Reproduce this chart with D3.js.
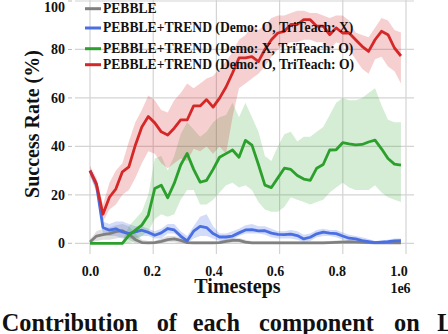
<!DOCTYPE html>
<html>
<head>
<meta charset="utf-8">
<script src="https://cdn.jsdelivr.net/npm/d3@7"></script>
<style>
  body { margin: 0; background: #fff; }
</style>
</head>
<body>
<svg id="chart" width="448" height="334"></svg>
<script>
// evaluation timesteps (x 1e6)
var timesteps = [0, 0.0205, 0.041, 0.0615, 0.082, 0.1025, 0.123, 0.1435, 0.164, 0.1845,
  0.205, 0.2255, 0.246, 0.2665, 0.287, 0.3075, 0.328, 0.3485, 0.369, 0.3895,
  0.41, 0.4305, 0.451, 0.4715, 0.492, 0.5125, 0.533, 0.5535, 0.574, 0.5945,
  0.615, 0.6355, 0.656, 0.6765, 0.697, 0.7175, 0.738, 0.7585, 0.779, 0.7995,
  0.82, 0.8405, 0.861, 0.8815, 0.902, 0.9225, 0.943, 0.9635, 0.984];

var pebble = [0.5, 3, 3.6, 4, 4.8, 5.2, 3.8, 1.5, 0.3, 0.2,
  0.3, 0.8, 1.5, 1.8, 1.2, 0.3, 0.2, 0.2, 0.2, 0.2,
  0.3, 0.8, 1.2, 1.2, 0.5, 0.2, 0.2, 0.2, 0.2, 0.2,
  0.2, 0.2, 0.2, 0.2, 0.2, 0.2, 0.2, 0.3, 0.4, 0.5,
  0.6, 0.5, 0.4, 0.3, 0.2, 0.2, 0.2, 0.2, 0.2];
var pebbleLo = [0, 1, 1.5, 1.5, 2, 2.5, 1.5, 0, 0, 0,
  0, 0, 0.5, 0.5, 0, 0, 0, 0, 0, 0,
  0, 0, 0.3, 0.3, 0, 0, 0, 0, 0, 0,
  0, 0, 0, 0, 0, 0, 0, 0, 0, 0,
  0, 0, 0, 0, 0, 0, 0, 0, 0];
var pebbleHi = [1.5, 5, 6, 6.5, 7.5, 8, 7, 4, 1.5, 1,
  1, 2, 3, 3, 2.5, 1, 0.8, 0.8, 0.8, 0.8,
  1, 1.8, 2.2, 2.2, 1.5, 0.8, 0.8, 0.8, 0.8, 0.8,
  0.8, 0.8, 0.8, 0.8, 0.8, 0.8, 0.8, 1, 1.2, 1.3,
  1.5, 1.3, 1.2, 1, 0.8, 0.8, 0.8, 0.8, 0.8];

var demoOnly = [30, 24, 6.5, 5.4, 6, 4.7, 4, 4.7, 5.4, 4.5,
  3.3, 4.3, 6.1, 5.5, 3, 1, 5, 7, 6.5, 4,
  2.6, 2.6, 3, 4.3, 5.5, 5.6, 5.1, 5.2, 4.2, 3.7,
  3.6, 3.8, 3.2, 1.8, 2.5, 3.9, 4.6, 4.2, 4, 3,
  2.1, 1.8, 1.1, 0.7, 0.3, 0.5, 0.7, 1, 1.1];
var demoOnlyLo = [28, 22, 4, 3, 3, 2, 2, 2, 3, 3,
  2, 2, 4, 4, 2, 0, 2, 3, 3, 2,
  1, 1, 1.5, 3, 4, 4, 4, 3.5, 2.5, 2,
  2, 2, 1.5, 0.5, 1, 2.5, 3, 3, 2.5, 1.5,
  1, 0.5, 0, 0, 0, 0, 0, 0.2, 0.3];
var demoOnlyHi = [31, 26, 9, 8, 9, 9, 8, 7, 7, 6,
  5, 6, 8, 8, 5, 3, 7, 11, 12, 7,
  4, 4, 5, 6, 7.5, 8, 7, 7, 6, 5,
  5, 5.5, 5, 3.5, 4, 5.5, 6, 5.5, 5.5, 4.5,
  3.5, 3, 2.5, 1.8, 1, 1.2, 1.5, 2, 2];

var triOnly = [0, 0, 0, 0, 0, 0, 3.3, 5.4, 7.5, 11.6,
  22.6, 24, 18.8, 24.7, 32.3, 37.1, 30.5, 25.2, 26, 30.5,
  35.5, 37, 38.5, 35.5, 42.5, 40.5, 32.5, 24, 23, 27,
  31, 30.5, 28, 26.5, 26, 31, 32.5, 38.5, 38.6, 41.5,
  41, 40.6, 40.8, 41.8, 42.6, 39, 35, 32.7, 32.3];
var triOnlyLo = [0, 0, 0, 0, 0, 0, 0, 1, 3, 5,
  10, 12, 11, 12, 18, 22, 22, 16, 16, 18,
  21, 24, 25, 23, 24, 22, 17, 14, 13, 13,
  15, 19, 18, 17, 16, 17, 18, 21, 23, 25,
  23, 22, 22, 22, 24, 21, 19, 18, 17];
var triOnlyHi = [0, 0, 0, 0, 0, 0.8, 7, 10, 13, 20,
  35, 36, 30, 36, 45, 50, 47, 44, 46, 50,
  52, 53, 58, 52, 58, 52, 46, 36, 34, 40,
  45, 46, 42, 44, 44, 46, 48, 53, 58, 60,
  59, 59, 60, 62, 64, 57, 51, 50, 50];

var both = [30, 24.5, 12, 19, 22.5, 29.5, 31.5, 40.5, 48, 52.3,
  49.7, 46, 44.7, 47.5, 50.9, 50.9, 56.7, 56.7, 59.3, 56.2,
  59.9, 64.5, 70.3, 76.5, 76.5, 77, 75, 80, 84, 86.8,
  87.5, 90.3, 90.3, 92.3, 92.3, 89.6, 89.6, 86.1, 88.9, 86.8,
  86.8, 84, 81.3, 79.2, 84, 87.5, 86.1, 80.6, 77.3];
var bothLo = [28, 21, 9, 14, 16, 20, 22, 27, 33, 38,
  37, 33, 31, 33, 35, 34, 39, 38, 40, 37,
  40, 37, 52, 64, 66, 68, 70, 73, 77, 80,
  82, 83, 83, 84, 84, 83, 83, 80, 83, 82,
  80, 76, 72, 70, 76, 77, 73, 71, 66];
var bothHi = [32, 27, 16, 25, 30, 33, 42, 50, 55, 61,
  59, 55, 54, 59, 62, 66, 64, 66, 68, 69,
  72, 75, 79, 84, 86, 90, 88, 90, 93, 94,
  94, 95, 96, 96, 95, 95, 94, 93, 94, 94,
  92, 87, 86, 85, 89, 93, 92, 88, 87];

var labels = ["PEBBLE", "PEBBLE+TREND (Demo: O, TriTeach: X)",
  "PEBBLE+TREND (Demo: X, TriTeach: O)", "PEBBLE+TREND (Demo: O, TriTeach: O)"];
var colors = ["#808080", "#4a6fe3", "#2ca02c", "#d62728"];
var xTicks = [0, 0.2, 0.4, 0.6, 0.8, 1.0];
var yTicks = [0, 20, 40, 60, 80, 100];

var series = [
  {mean: pebble, lo: pebbleLo, hi: pebbleHi, alpha: 0.25},
  {mean: demoOnly, lo: demoOnlyLo, hi: demoOnlyHi, alpha: 0.25},
  {mean: triOnly, lo: triOnlyLo, hi: triOnlyHi, alpha: 0.2},
  {mean: both, lo: bothLo, hi: bothHi, alpha: 0.22}
];

var FONT = "Liberation Serif";

var svg = d3.select("#chart"),
    left = 75, right = 414, top = 0.5, bottom = 254;

var x = d3.scaleLinear().domain([0, 1]).range([90, 406]),
    xLab = d3.scaleLinear().domain([0, 1]).range([90.5, 399]),
    y = d3.scaleLinear().domain([0, 100]).range([243.3, 1]);

function label(sel, size) {
  return sel.attr("font-family", FONT)
      .attr("font-weight", "bold")
      .attr("font-size", size)
      .attr("fill", "#111");
}

svg.append("rect").attr("width", 448).attr("height", 334).attr("fill", "#fff");

// grid
svg.append("g").selectAll("line").data(xTicks).enter().append("line")
    .attr("x1", d => x(d)).attr("x2", d => x(d))
    .attr("y1", top).attr("y2", bottom)
    .attr("stroke", "#d4d4d4").attr("stroke-width", 1.2);
svg.append("g").selectAll("line").data(yTicks).enter().append("line")
    .attr("x1", left).attr("x2", right)
    .attr("y1", d => y(d)).attr("y2", d => y(d))
    .attr("stroke", "#d4d4d4").attr("stroke-width", 1.2);

var area = d3.area()
    .x((d, i) => x(timesteps[i]));
var line = d3.line()
    .x((d, i) => x(timesteps[i]))
    .y(d => y(d));

series.forEach(function (s, k) {
  svg.append("path")
      .datum(s.mean)
      .attr("d", area.y0((d, i) => y(s.lo[i])).y1((d, i) => y(s.hi[i])))
      .attr("fill", colors[k])
      .attr("fill-opacity", s.alpha);
});

series.forEach(function (s, k) {
  svg.append("path")
      .datum(s.mean)
      .attr("d", line)
      .attr("fill", "none")
      .attr("stroke", colors[k])
      .attr("stroke-width", 2.8)
      .attr("stroke-linejoin", "round");
});

// frame
svg.append("rect")
    .attr("x", left).attr("y", top)
    .attr("width", right - left).attr("height", bottom - top)
    .attr("fill", "none").attr("stroke", "#555").attr("stroke-width", 1.4);

// y ticks
svg.append("g").selectAll("line").data(yTicks).enter().append("line")
    .attr("x1", 68).attr("x2", 72)
    .attr("y1", d => y(d)).attr("y2", d => y(d))
    .attr("stroke", "#bbb");
label(svg.append("g").selectAll("text").data(yTicks).enter().append("text"), 14)
    .attr("x", 65).attr("y", d => Math.max(y(d), 7))
    .attr("dy", "0.35em").attr("text-anchor", "end")
    .text(d => d);

// x ticks
label(svg.append("g").selectAll("text").data(xTicks).enter().append("text"), 14)
    .attr("x", d => xLab(d)).attr("y", 275.5)
    .attr("text-anchor", "middle")
    .text(d => d3.format(".1f")(d));

label(svg.append("text"), 14).attr("x", 400.5).attr("y", 293)
    .attr("text-anchor", "middle").text("1e6");

label(svg.append("text"), 20).attr("x", 237.5).attr("y", 292.5)
    .attr("text-anchor", "middle").text("Timesteps");

label(svg.append("text"), 20)
    .attr("transform", "translate(39,124) rotate(-90)")
    .attr("text-anchor", "middle")
    .text("Success Rate (%)");

// legend
var legY = [12.7, 32, 52.7, 68.7];
var leg = svg.append("g").selectAll("g").data(labels).enter().append("g");
leg.append("line")
    .attr("x1", 85).attr("x2", 101)
    .attr("y1", (d, i) => legY[i] - 4).attr("y2", (d, i) => legY[i] - 4)
    .attr("stroke", (d, i) => colors[i]).attr("stroke-width", 3);
label(leg.append("text"), 13.6)
    .attr("x", 103).attr("y", (d, i) => legY[i])
    .text(d => d);

// caption (justified line, cut at the right edge)
var caption = ["Contribution", "of", "each", "component", "on", "L"];
var capX = [1.7, 156.7, 192.7, 259, 394, 437.3];
label(svg.append("g").selectAll("text").data(caption).enter().append("text"), 24.3)
    .attr("x", (d, i) => capX[i]).attr("y", 331)
    .text(d => d);
</script>
</body>
</html>
